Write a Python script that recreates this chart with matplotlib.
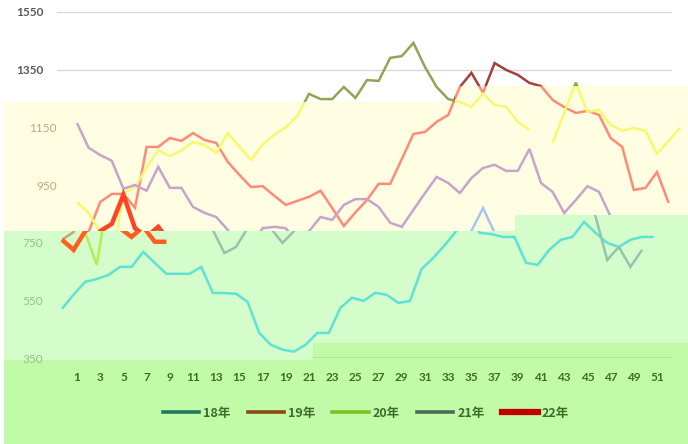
import numpy as np
import matplotlib
matplotlib.use("Agg")
import matplotlib.pyplot as plt
from matplotlib.patches import Polygon
from matplotlib.lines import Line2D

# -------- data (weekly values) --------------------------------------------- #
SERIES = ["18年", "19年", "20年", "21年", "22年"]

V18 = [521, 570, 614, 624, 638, 666, 666, 718, 680, 642, 642, 642, 666, 576,
       575, 573, 545, 437, 396, 379, 372, 396, 437, 437, 524, 559, 548, 576,
       569, 541, 548, 659, 697, 742, 791, 870, 784, 780, 770, 770, 680, 673,
       725, 760, 770, 822, 784, 749, 735, 760, 770, 770]
V19 = [760, 787, 891, 919, 919, 871, 1082, 1082, 1113, 1103, 1130, 1106, 1096,
       1030, 985, 943, 946, 913, 881, 895, 909, 930, 870, 808, 855, 898, 954,
       954, 1040, 1127, 1134, 1169, 1193, 1290, 1339, 1270, 1373, 1349, 1332,
       1304, 1293, 1245, 1220, 1200, 1207, 1193, 1113, 1082, 933, 940, 995, 888]
V20 = [891, 853, 785, 673, 921, 942, 1011, 1071, 1050, 1070, 1099, 1089, 1061,
       1130, 1083, 1037, 1090, 1124, 1150, 1190, 1266, 1248, 1248, 1290, 1252,
       1314, 1311, 1391, 1397, 1443, 1359, 1290, 1248, 1238, 1221, 1266, 1228,
       1221, 1169, 1141, np.nan, 1096, 1200, 1305, 1203, 1210, 1158, 1138, 1148,
       1138, 1058, 1103, 1148]
V21 = [1165, 1079, 1054, 1034, 937, 950, 930, 1013, 940, 940, 874, 853, 839,
       794, 714, 735, 800, 805, 800, 749, 790, 839, 829, 881, 901, 901, 874, 819,
       805, 864, 922, 978, 957, 922, 974, 1009, 1020, 999, 999, 1075, 957, 926,
       853, 898, 946, 926, 840, 690, 735, 666, 725]
V22 = [760, 725, 790, 815, 916, 800, 770, 805, 753, 753]
VALUES = [V18, V19, V20, V21, V22]

YTICKS = [350, 550, 750, 950, 1150, 1350, 1550]
XTICKS = list(range(1, 52, 2))

# -------- colours --------------------------------------------------------- #
LEGEND_COLORS = ["#1F7A5C", "#8B4A12", "#7DC31D", "#4B6B59", "#C00000"]
# the source picture is a badly composited image: every colour band shows
# the lines in a different tint, and the green band is shifted to the left
WHITE_COLORS = [None, "#A4403C", "#8FA655", None, None]
YELLOW_COLORS = ["#A9C4F0", "#FF8A78", "#F8F86E", "#C8A4CC", "#FF4422"]
GREEN_COLORS = ["#5FE2D6", "#D0A070", "#B6EE4E", "#94C4B0", "#FF5E1E"]
WIDTHS = [1.8, 1.8, 1.8, 1.8, 3.2]

YELLOW_BG = "#FFFDE2"
GREEN_BG = "#D4FDCB"
BOTTOM_BG = "#C2FBA8"

W, H = 688, 444

# band outlines in pixels (x, y from top)
WHITE_REGION = [(0, 0), (688, 0), (688, 86), (455, 86), (455, 102), (0, 102)]
YELLOW_REGION = [(4, 102), (455, 102), (455, 86), (688, 86), (688, 215),
                 (515, 215), (515, 231), (4, 231)]
GREEN_REGION = [(4, 231), (515, 231), (515, 215), (688, 215), (688, 343),
                (313, 343), (313, 360), (4, 360)]
BOTTOM_REGION = [(4, 360), (313, 360), (313, 343), (688, 343), (688, 444),
                 (4, 444)]


def to_fig(points):
    return [(x / W, 1 - y / H) for x, y in points]


def main():
    fig = plt.figure(figsize=(6.88, 4.44), dpi=100)
    fig.patch.set_facecolor("white")

    rect = [57 / W, 1 - 358 / H, 615 / W, 346 / H]
    xlim = (-0.724, 52.29)
    shift = 1.293  # green band layer sits ~15 px to the left

    ax = fig.add_axes(rect, zorder=0)
    ax.set_xlim(*xlim)
    ax.set_ylim(350, 1550)
    ax.set_yticks(YTICKS)
    ax.grid(axis="y", color="#D9D9D9", linewidth=1.0)
    ax.set_xticks([])
    ax.tick_params(left=False, labelleft=False)
    for s in ax.spines.values():
        s.set_visible(False)
    ax.patch.set_visible(False)

    for region, col in [(YELLOW_REGION, YELLOW_BG), (GREEN_REGION, GREEN_BG),
                        (BOTTOM_REGION, BOTTOM_BG)]:
        fig.patches.append(Polygon(to_fig(region), closed=True, facecolor=col,
                                   edgecolor="none", transform=fig.transFigure,
                                   zorder=1))

    ax_top = fig.add_axes(rect, zorder=2)
    ax_green = fig.add_axes(rect, zorder=3)
    for a, lim in [(ax_top, xlim), (ax_green, (xlim[0] + shift, xlim[1] + shift))]:
        a.set_xlim(*lim)
        a.set_ylim(350, 1550)
        a.patch.set_visible(False)
        for s in a.spines.values():
            s.set_visible(False)
    ax_green.set_xticks([])
    ax_green.set_yticks([])

    def clip(line, region):
        line.set_clip_box(None)
        line.set_clip_path(Polygon(to_fig(region), closed=True,
                                   transform=fig.transFigure))

    for i, vals in enumerate(VALUES):
        weeks = np.arange(1, len(vals) + 1)
        for colors, region, a in [(WHITE_COLORS, WHITE_REGION, ax_top),
                                  (YELLOW_COLORS, YELLOW_REGION, ax_top),
                                  (GREEN_COLORS, GREEN_REGION, ax_green)]:
            if colors[i] is None:
                continue
            ln, = a.plot(weeks, vals, color=colors[i], linewidth=WIDTHS[i],
                         solid_joinstyle="miter", solid_capstyle="butt")
            clip(ln, region)

    # axis line at the bottom band
    ax_top.axhline(350, xmin=(313 - 57) / 615, xmax=1.0, color="#A6E48A",
                   linewidth=1.2, zorder=1)

    # tick labels
    ax_top.set_yticks(YTICKS)
    ax_top.set_yticklabels([str(v) for v in YTICKS])
    ax_top.tick_params(axis="y", length=0)
    for tick, v in zip(ax_top.yaxis.get_major_ticks(), YTICKS):
        lab = tick.label1
        lab.set_fontfamily("Lato")
        lab.set_fontsize(8.5)
        if v >= 1350:
            lab.set_color("#595959")
            lab.set_fontweight("bold")
            tick.set_pad(10)
        elif v >= 950:
            lab.set_color("#B5A98A")
            tick.set_pad(0)
        else:
            lab.set_color("#86C986")
            tick.set_pad(10)

    ax_top.set_xticks(XTICKS)
    ax_top.set_xticklabels([str(x) for x in XTICKS], fontfamily="Lato",
                           fontsize=8.5, fontweight="bold", color="#3C6E1E")
    ax_top.tick_params(axis="x", length=0, pad=10)

    handles = [Line2D([], [], color=c, linewidth=4.5 if i == 4 else 2.6,
                      label=s)
               for i, (s, c) in enumerate(zip(SERIES, LEGEND_COLORS))]
    leg = fig.legend(handles=handles, loc="center",
                     bbox_to_anchor=(366 / W, 1 - 413 / H), ncol=5,
                     frameon=False, handlelength=2.9, handletextpad=0.3,
                     columnspacing=1.4,
                     prop={"family": ["Noto Sans CJK SC", "DejaVu Sans"],
                           "size": 9, "weight": "bold"})
    for t in leg.get_texts():
        t.set_color("#3D6B2A")

    fig.savefig("out.png", dpi=100)


if __name__ == "__main__":
    main()
